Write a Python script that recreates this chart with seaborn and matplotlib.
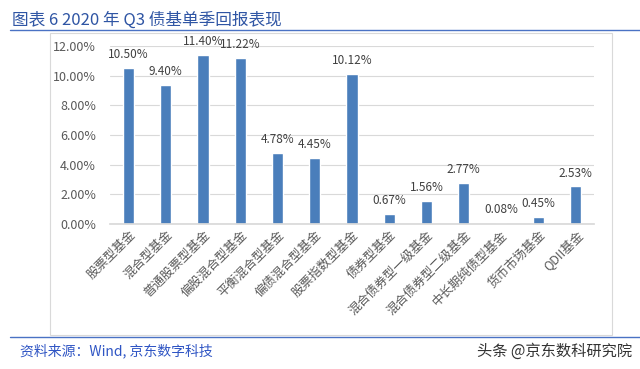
import matplotlib
matplotlib.use("Agg")
import matplotlib.pyplot as plt
import seaborn as sns
import pandas as pd
from matplotlib.patches import Rectangle
from matplotlib.lines import Line2D

categories = ["股票型基金", "混合型基金", "普通股票型基金", "偏股混合型基金", "平衡混合型基金",
              "偏债混合型基金", "股票指数型基金", "债券型基金", "混合债券型一级基金",
              "混合债券型二级基金", "中长期纯债型基金", "货币市场基金", "QDII基金"]
values = [10.50, 9.40, 11.40, 11.22, 4.78, 4.45, 10.12, 0.67, 1.56, 2.77, 0.08, 0.45, 2.53]
yticks = [0, 2, 4, 6, 8, 10, 12]

sns.set_theme(style="white")
plt.rcParams['font.family'] = ['Noto Sans CJK SC', 'DejaVu Sans']

fig = plt.figure(figsize=(6.4, 3.69), dpi=100)
ax = fig.add_axes([110/640, 1-224/369, 484/640, 178/369])

df = pd.DataFrame({"cat": categories, "val": values})
sns.barplot(data=df, x="cat", y="val", color="#4A7EBB", saturation=1, width=0.3, ax=ax)

ax.set_ylim(0, 12)
ax.set_xlim(-0.5, len(categories) - 0.5)
ax.set_yticks(yticks)
ax.set_yticklabels([f"{v:.2f}%" for v in yticks], fontsize=9, color="#595959")
ax.set_xlabel("")
ax.set_ylabel("")
ax.yaxis.grid(True, color="#D9D9D9", linewidth=0.8)
ax.set_axisbelow(True)
for s in ["left", "right", "top"]:
    ax.spines[s].set_visible(False)
ax.spines["bottom"].set_color("#D9D9D9")
ax.tick_params(axis="y", length=0, pad=10)
ax.tick_params(axis="x", length=0, pad=3)
ax.set_xticks(range(len(categories)))
ax.set_xticklabels(categories, rotation=45, ha="right", va="top", rotation_mode="anchor",
                   fontsize=9, color="#595959")

for i, v in enumerate(values):
    ax.annotate(f"{v:.2f}%", (i, v), xytext=(0, 5), textcoords="offset points",
                ha="center", va="bottom", fontsize=8.5, color="#404040")

# chart frame
fig.patches.append(Rectangle((50/640, 1-335/369), 562/640, 302/369, transform=fig.transFigure,
                             fill=False, edgecolor="#D9D9D9", linewidth=0.8))
# title and rules
fig.text(12/640, 1-20/369, "图表 6 2020 年 Q3 债基单季回报表现", fontsize=12, color="#2F55A4",
         ha="left", va="center")
fig.add_artist(Line2D([10/640, 1], [1-30/369, 1-30/369], transform=fig.transFigure,
                      color="#4A72C4", linewidth=1.0))
fig.add_artist(Line2D([10/640, 1], [1-337/369, 1-337/369], transform=fig.transFigure,
                      color="#4A72C4", linewidth=1.0))
fig.text(20/640, 1-351/369, "资料来源：Wind, 京东数字科技", fontsize=10, color="#2F55C4",
         style="italic", ha="left", va="center")
fig.text(632/640, 1-351/369, "头条 @京东数科研究院", fontsize=11, color="#333333",
         ha="right", va="center")

fig.savefig("out.png", dpi=100)
